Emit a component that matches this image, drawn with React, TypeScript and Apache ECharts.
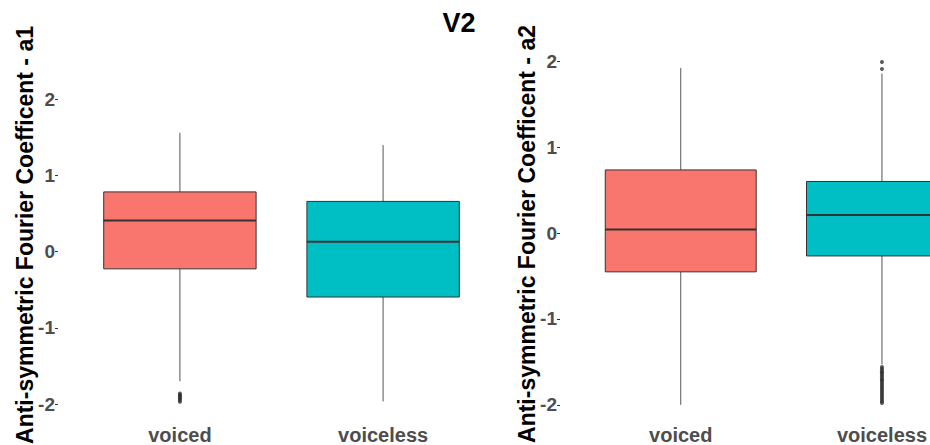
import React, { useEffect, useRef } from "react";
import * as echarts from "echarts";

const categories = ["voiced", "voiceless"];
const boxColors = ["#F8766D", "#00BFC4"];
const yTicks = [-2, -1, 0, 1, 2];

// [lower whisker, Q1, median, Q3, upper whisker]
const a1Voiced = [-1.7, -0.225, 0.41, 0.785, 1.56];
const a1Voiceless = [-1.965, -0.595, 0.13, 0.66, 1.4];
const a2Voiced = [-2.0, -0.452, 0.04, 0.734, 1.92];
const a2Voiceless = [-1.53, -0.267, 0.21, 0.6, 1.856];

const a1VoicedOutliers = [-1.86, -1.88, -1.89, -1.9, -1.92, -1.93, -1.95, -1.97];
const a2VoicelessOutliers = [
  1.91, 1.99, -1.56, -1.58, -1.6, -1.62, -1.63, -1.65, -1.67, -1.69, -1.71, -1.72,
  -1.74, -1.76, -1.78, -1.8, -1.82, -1.84, -1.86, -1.88, -1.9, -1.92, -1.94, -1.96, -1.98,
];

const FONT = "'Liberation Sans', Arial, Helvetica, sans-serif";

function renderBox(params: any, api: any) {
  const x = api.value(0);
  const lo = api.coord([x, api.value(1)]);
  const q1 = api.coord([x, api.value(2)]);
  const med = api.coord([x, api.value(3)]);
  const q3 = api.coord([x, api.value(4)]);
  const hi = api.coord([x, api.value(5)]);
  const w = api.size([0.75, 0])[0];
  const color = boxColors[params.dataIndex % boxColors.length];
  return {
    type: "group",
    children: [
      {
        type: "line",
        shape: { x1: hi[0], y1: hi[1], x2: q3[0], y2: q3[1] },
        style: { stroke: "#555555", lineWidth: 1 },
      },
      {
        type: "line",
        shape: { x1: lo[0], y1: lo[1], x2: q1[0], y2: q1[1] },
        style: { stroke: "#555555", lineWidth: 1 },
      },
      {
        type: "rect",
        shape: { x: q3[0] - w / 2, y: q3[1], width: w, height: q1[1] - q3[1] },
        style: { fill: color, stroke: "#333333", lineWidth: 1 },
      },
      {
        type: "line",
        shape: { x1: med[0] - w / 2, y1: med[1], x2: med[0] + w / 2, y2: med[1] },
        style: { stroke: "#333333", lineWidth: 2 },
      },
    ],
  };
}

function xAxisFor(gridIndex: number, max: number) {
  return {
    type: "value",
    gridIndex,
    min: 0.4,
    max,
    axisLine: { show: false },
    splitLine: { show: false },
    axisTick: { show: true, length: 3, customValues: [1, 2], lineStyle: { color: "#333333" } },
    axisLabel: {
      customValues: [1, 2],
      formatter: (v: number) => {
        const r = Math.round(v);
        return Math.abs(v - r) < 1e-6 && categories[r - 1] ? categories[r - 1] : "";
      },
      margin: 3,
      fontSize: 20,
      fontWeight: "bold",
      color: "#4D4D4D",
      fontFamily: FONT,
    },
  };
}

function yAxisFor(gridIndex: number, min: number, max: number) {
  return {
    type: "value",
    gridIndex,
    min,
    max,
    axisLine: { show: false },
    splitLine: { show: false },
    axisTick: { show: true, length: 3, customValues: yTicks, lineStyle: { color: "#333333" } },
    axisLabel: {
      customValues: yTicks,
      formatter: (v: number) => (Math.abs(v - Math.round(v)) < 1e-6 ? String(Math.round(v)) : ""),
      margin: 3,
      fontSize: 19,
      fontWeight: "bold",
      color: "#4D4D4D",
      fontFamily: FONT,
    },
  };
}

export default function App() {
  const ref = useRef<HTMLDivElement>(null);
  useEffect(() => {
    if (!ref.current) return;
    const chart = echarts.init(ref.current, null, { renderer: "svg" });
    chart.setOption({
      animation: false,
      backgroundColor: "#ffffff",
      grid: [
        { left: 58, top: 44, width: 447, height: 380 },
        { left: 560, top: 44, width: 370, height: 380 },
      ],
      xAxis: [xAxisFor(0, 2.6), xAxisFor(1, 2.232)],
      yAxis: [yAxisFor(0, -2.235, 2.726), yAxisFor(1, -2.2, 2.2)],
      graphic: [
        {
          type: "text",
          x: 459,
          y: 23,
          style: {
            text: "V2",
            align: "center",
            verticalAlign: "middle",
            fontSize: 27,
            fontWeight: "bold",
            fill: "#000000",
            fontFamily: FONT,
          },
        },
        {
          type: "text",
          x: 25,
          y: 235,
          rotation: Math.PI / 2,
          style: {
            text: "Anti-symmetric Fourier Coefficent - a1",
            align: "center",
            verticalAlign: "middle",
            fontSize: 23,
            fontWeight: "bold",
            fill: "#000000",
            fontFamily: FONT,
          },
        },
        {
          type: "text",
          x: 527,
          y: 234,
          rotation: Math.PI / 2,
          style: {
            text: "Anti-symmetric Fourier Coefficent - a2",
            align: "center",
            verticalAlign: "middle",
            fontSize: 23,
            fontWeight: "bold",
            fill: "#000000",
            fontFamily: FONT,
          },
        },
      ],
      series: [
        {
          type: "custom",
          xAxisIndex: 0,
          yAxisIndex: 0,
          renderItem: renderBox,
          encode: { x: 0, y: [1, 2, 3, 4, 5] },
          data: [
            [1, ...a1Voiced],
            [2, ...a1Voiceless],
          ],
        },
        {
          type: "scatter",
          xAxisIndex: 0,
          yAxisIndex: 0,
          symbolSize: 4,
          itemStyle: { color: "#333333" },
          data: a1VoicedOutliers.map((v) => [1, v]),
        },
        {
          type: "custom",
          xAxisIndex: 1,
          yAxisIndex: 1,
          renderItem: renderBox,
          encode: { x: 0, y: [1, 2, 3, 4, 5] },
          data: [
            [1, ...a2Voiced],
            [2, ...a2Voiceless],
          ],
        },
        {
          type: "scatter",
          xAxisIndex: 1,
          yAxisIndex: 1,
          symbolSize: 4,
          itemStyle: { color: "#333333" },
          data: a2VoicelessOutliers.map((v) => [2, v]),
        },
      ],
    });
    return () => chart.dispose();
  }, []);
  return (
    <div
      ref={ref}
      style={{ position: "absolute", left: 0, top: 0, width: 930, height: 445 }}
    />
  );
}
